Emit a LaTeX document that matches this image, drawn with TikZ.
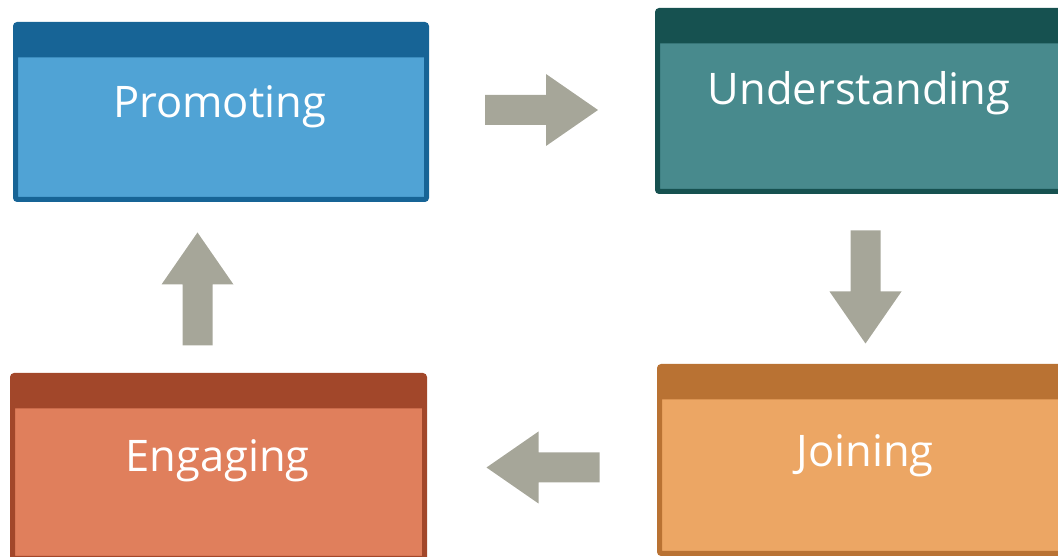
\documentclass[tikz,border=0pt]{standalone}
\usepackage{fontspec}
\setmainfont{Open Sans}
\usetikzlibrary{positioning}

\definecolor{promodark}{HTML}{176496}
\definecolor{promolight}{HTML}{50A3D5}
\definecolor{understdark}{HTML}{165150}
\definecolor{understlight}{HTML}{488A8D}
\definecolor{joindark}{HTML}{B97233}
\definecolor{joinlight}{HTML}{ECA664}
\definecolor{engagedark}{HTML}{A2472A}
\definecolor{engagelight}{HTML}{E07F5C}
\definecolor{arrowgray}{HTML}{A6A699}

\tikzset{
  stagebox/.style 2 args={draw=#1, fill=#2, line width=5pt, rounded corners=2pt,
    minimum width=411pt, inner sep=0pt,
    path picture={\fill[#1] (path picture bounding box.north west)
      rectangle ([yshift=-33pt]path picture bounding box.north east);}},
  stagetext/.style={text=white, font=\fontsize{43.5}{50}\selectfont, anchor=base, inner sep=0pt}
}

\begin{document}
\begin{tikzpicture}[x=1pt, y=1pt]

\useasboundingbox (0,0) rectangle (1058,557);
\clip (0,0) rectangle (1058,557);

% the four stages
\node[stagebox={promodark}{promolight}, minimum height=175pt] (promoting) at (221,445) {};
\node[stagebox={understdark}{understlight}, minimum height=181pt] (understanding) at (863,456) {};
\node[stagebox={joindark}{joinlight}, minimum height=187pt] (joining) at (865,97) {};
\node[stagebox={engagedark}{engagelight}, minimum width=412pt, minimum height=183pt] (engaging) at (218.5,90) {};

\node[stagetext] (promotingtext) at (219.5,439) {Promoting};
\node[stagetext] (understandingtext) at (859,452) {Understanding};
\node[stagetext] (joiningtext) at (865,90) {Joining};
\node[stagetext] (engagingtext) at (217.5,85) {Engaging};

% block arrows between the stages
\foreach \ax/\ay/\ang in {541.5/447/0, 865.5/270/-90, 543/89.5/180, 197.5/268/90}
{
  \fill[arrowgray, shift={(\ax,\ay)}, rotate=\ang]
    (-56.5,-15) -- (4.5,-15) -- (4.5,-36) -- (56.5,0) -- (4.5,36) -- (4.5,15) -- (-56.5,15) -- cycle;
}

\end{tikzpicture}
\end{document}
